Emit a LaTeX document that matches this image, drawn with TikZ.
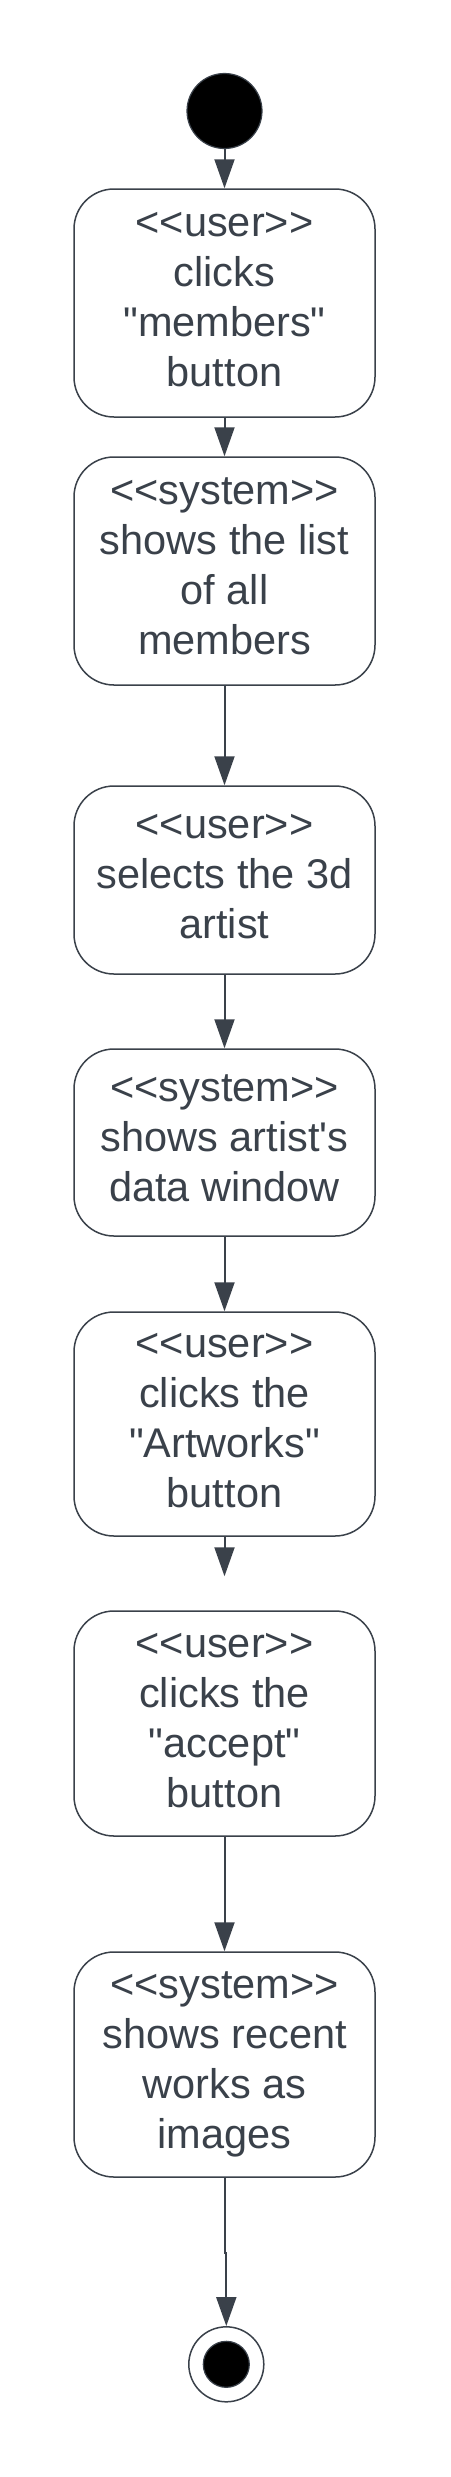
\documentclass[tikz,border=0pt]{standalone}
\usepackage{fontspec}
\setmainfont{Liberation Sans}[Ligatures=TeXOff]
\usetikzlibrary{arrows.meta}
\definecolor{ink}{HTML}{3A414A}
\newcommand\sline{\rule[-16.5pt]{0pt}{50pt}}
\begin{document}
\begin{tikzpicture}[x=1pt,y=-1pt,
  act/.style={draw=ink, line width=1.5pt, rounded corners=40pt, fill=white,
    minimum width=301pt, inner sep=0pt, align=center, text=ink,
    font=\fontsize{41.5pt}{50pt}\selectfont},
  flow/.style={draw=ink, line width=2pt, -{Triangle[width=20pt,length=29pt]}, color=ink},
  startc/.style={circle, draw=ink, line width=1.2pt, fill=black, minimum size=75pt, inner sep=0pt},
  endo/.style={circle, draw=ink, line width=1.5pt, fill=white, minimum size=75pt, inner sep=0pt},
  endi/.style={circle, draw=ink, line width=1.2pt, fill=black, minimum size=46pt, inner sep=0pt}]
\useasboundingbox (0,0) rectangle (450,2477);
\node[startc] (s) at (224.5,111) {};
\node[act, minimum height=228pt] (b1) at (224.5,303) {\sline<<user>>\\\sline clicks\\\sline"members"\\\sline button};
\node[act, minimum height=228pt] (b2) at (224.5,571) {\sline<<system>>\\\sline shows the list\\\sline of all\\\sline members};
\node[act, minimum height=188pt] (b3) at (224.5,880) {\sline<<user>>\\\sline selects the 3d\\\sline artist};
\node[act, minimum height=187pt] (b4) at (224.5,1142.5) {\sline<<system>>\\\sline shows artist's\\\sline data window};
\node[act, minimum height=224pt] (b5) at (224.5,1424) {\sline<<user>>\\\sline clicks the\\\sline"Artworks"\\\sline button};
\node[act, minimum height=225pt] (b6) at (224.5,1723.5) {\sline<<user>>\\\sline clicks the\\\sline"accept"\\\sline button};
\node[act, minimum height=225pt] (b7) at (224.5,2064.5) {\sline<<system>>\\\sline shows recent\\\sline works as\\\sline images};
\node[endo] (e) at (226.3,2364.3) {};
\node[endi] (ei) at (e.center) {};
\draw[flow] (s) -- (b1);
\draw[flow] (b1) -- (b2);
\draw[flow] (b2) -- (b3);
\draw[flow] (b3) -- (b4);
\draw[flow] (b4) -- (b5);
\draw[flow, shorten >=34pt] (b5) -- (b6);
\draw[flow] (b6) -- (b7);
\draw[flow] (b7.south) -- ++(0,75) -| (e.north);
\end{tikzpicture}
\end{document}
